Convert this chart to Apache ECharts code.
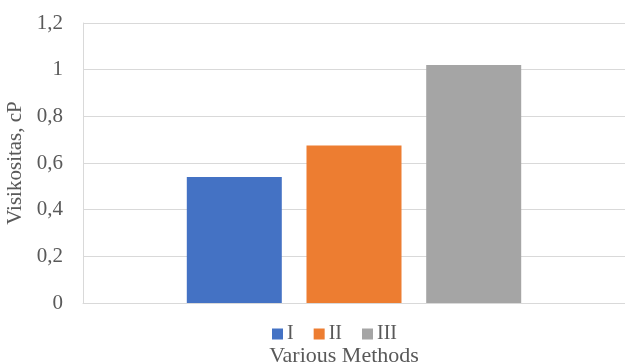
<!DOCTYPE html>
<html>
<head>
<meta charset="utf-8">
<script src="https://cdn.jsdelivr.net/npm/echarts@6/dist/echarts.min.js"></script>
<style>
html,body{margin:0;padding:0;background:#fff;overflow:hidden;}
#chart{width:625px;height:364px;}
</style>
</head>
<body>
<div id="chart"></div>
<script>
var categories = [''];
var seriesNames = ['I', 'II', 'III'];
var valuesI = [0.54];
var valuesII = [0.675];
var valuesIII = [1.02];
var seriesColors = ['#4472C4', '#ED7D31', '#A5A5A5'];
var yTicks = { min: 0, max: 1.2, interval: 0.2 };

var FONT = '"Liberation Serif", "Times New Roman", serif';
var TXT = '#595959';
var chart = echarts.init(document.getElementById('chart'), null, { renderer: 'canvas' });
var allValues = [valuesI, valuesII, valuesIII];
chart.setOption({
  animation: false,
  backgroundColor: '#ffffff',
  textStyle: { fontFamily: FONT, color: TXT },
  grid: { left: 83, right: 0, top: 23, bottom: 61, containLabel: false, outerBoundsMode: 'none' },
  legend: {
    data: seriesNames,
    top: 319,
    left: 267,
    itemWidth: 11,
    itemHeight: 11,
    itemGap: 20,
    icon: 'rect',
    textStyle: { fontFamily: FONT, fontSize: 20, color: TXT, padding: [0, 0, 0, -1] }
  },
  xAxis: {
    type: 'category',
    data: categories,
    name: 'Various Methods',
    nameLocation: 'middle',
    nameGap: 42,
    nameTextStyle: { fontFamily: FONT, fontSize: 22, color: TXT, padding: [0, 20, 0, 0] },
    axisLine: { show: true, lineStyle: { color: '#d9d9d9', width: 1 } },
    axisTick: { show: false },
    axisLabel: { show: false }
  },
  yAxis: {
    type: 'value',
    min: yTicks.min,
    max: yTicks.max,
    interval: yTicks.interval,
    name: 'Visikositas, cP',
    nameLocation: 'middle',
    nameGap: 51,
    nameTextStyle: { fontFamily: FONT, fontSize: 21, color: TXT },
    axisLine: { show: true, lineStyle: { color: '#d9d9d9', width: 1 } },
    axisTick: { show: false },
    splitLine: { show: true, lineStyle: { color: '#d9d9d9', width: 1 } },
    axisLabel: {
      margin: 20,
      fontFamily: FONT,
      fontSize: 21,
      color: TXT,
      formatter: function (v) { return String(Math.round(v * 10) / 10).replace('.', ','); }
    }
  },
  series: seriesNames.map(function (n, i) {
    return {
      name: n,
      type: 'bar',
      data: allValues[i],
      barWidth: 95,
      barGap: '26%',
      itemStyle: { color: seriesColors[i] }
    };
  })
});
</script>
</body>
</html>
